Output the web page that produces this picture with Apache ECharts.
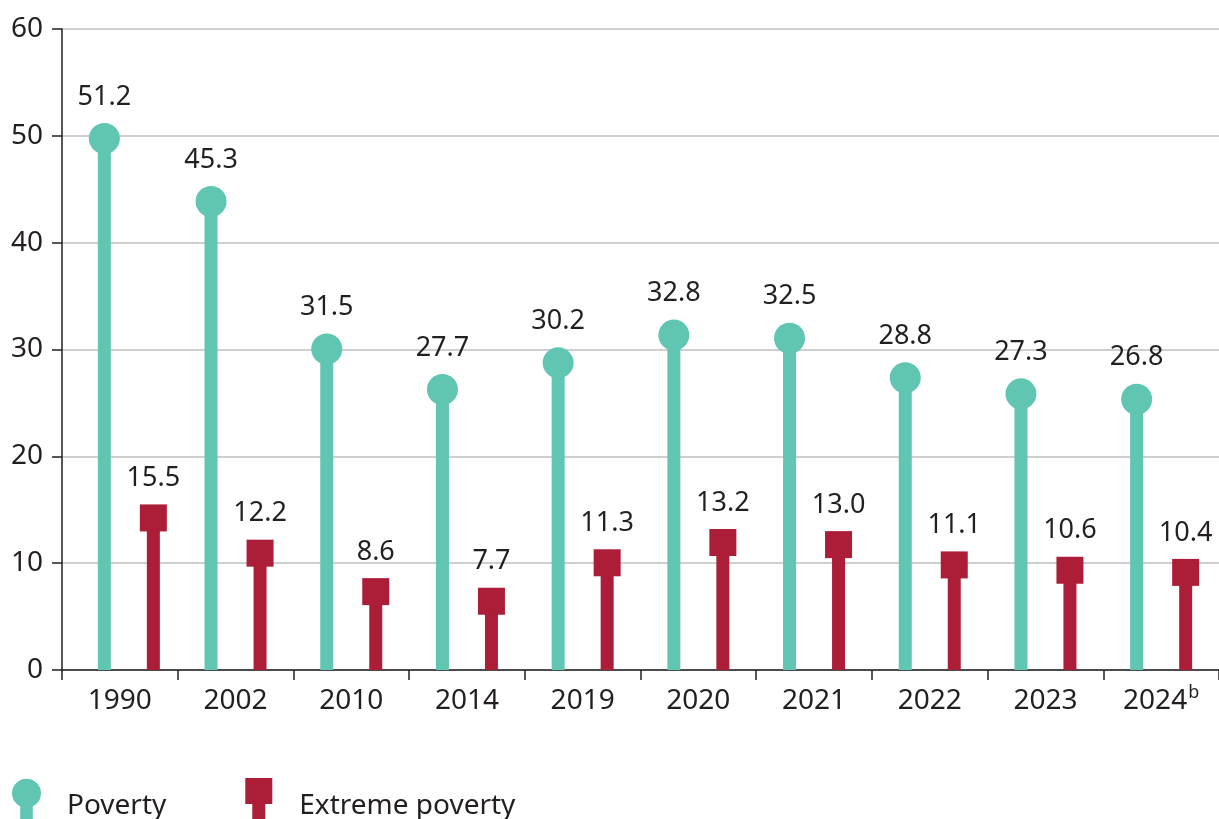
<!DOCTYPE html>
<html>
<head>
<meta charset="utf-8">
<script src="https://cdn.jsdelivr.net/npm/echarts@6/dist/echarts.min.js"></script>
<style>
html,body{margin:0;padding:0;background:#fff;}
#chart{width:1219px;height:819px;}
</style>
</head>
<body>
<div id="chart"></div>
<script>
const categories = ['1990','2002','2010','2014','2019','2020','2021','2022','2023','2024'];
const footnotes = ['','','','','','','','','','b'];
const poverty = [51.2,45.3,31.5,27.7,30.2,32.8,32.5,28.8,27.3,26.8];
const extremePoverty = [15.5,12.2,8.6,7.7,11.3,13.2,13.0,11.1,10.6,10.4];
const yTicks = [0,10,20,30,40,50,60];

const TEAL = '#60C5B1';
const RED = '#AC1E37';
const INK = '#231F20';
const FONT = '"Noto Sans", sans-serif';
const FIRST_GROUP_SHIFT = 9; // first group in the original sits slightly right of its slot

function makeRender(shape, color, offset) {
  return function (params, api) {
    const idx = api.value(0);
    const v = api.value(1);
    const base = api.coord([idx, 0]);
    const top = api.coord([idx, v]);
    const x = base[0] + offset + (idx === 0 ? FIRST_GROUP_SHIFT : 0);
    const stemW = 13;
    const children = [];
    let centerY;
    if (shape === 'circle') {
      const r = 15.5;
      centerY = top[1] + r;
      children.push({type:'rect', shape:{x:x-stemW/2, y:centerY, width:stemW, height:base[1]-centerY}, style:{fill:color}});
      children.push({type:'circle', shape:{cx:x, cy:centerY, r:r}, style:{fill:color}});
    } else {
      const s = 27;
      centerY = top[1] + s/2;
      children.push({type:'rect', shape:{x:x-stemW/2, y:centerY, width:stemW, height:base[1]-centerY}, style:{fill:color}});
      children.push({type:'rect', shape:{x:x-s/2, y:top[1], width:s, height:s}, style:{fill:color}});
    }
    children.push({type:'text', x:x, y:top[1]-26, style:{text:v.toFixed(1), fill:INK, font:'27px '+FONT, align:'center', verticalAlign:'middle'}});
    return {type:'group', children:children};
  };
}

const chart = echarts.init(document.getElementById('chart'), null, {renderer:'canvas'});
chart.setOption({
  animation:false,
  backgroundColor:'#fff',
  grid:{left:62, right:-5, top:29, bottom:149, containLabel:false},
  legend:{
    left:12, top:778, padding:0, itemWidth:29, itemHeight:50, itemGap:79,
    selectedMode:false,
    data:[
      {name:'Poverty', icon:'path://M0,15 A15,15 0 1,1 30,15 A15,15 0 1,1 0,15 Z M8.5,15 L21.5,15 L21.5,50 L8.5,50 Z'},
      {name:'Extreme poverty', icon:'path://M0,0 L27,0 L27,26 L20,26 L20,50 L7,50 L7,26 L0,26 Z'}
    ],
    formatter: function(n){ return '{t|' + n + '}'; },
    textStyle:{color:INK, fontSize:28, fontFamily:FONT,
      rich:{t:{color:INK, fontSize:28, fontFamily:FONT, padding:[6,0,0,21]}}}
  },
  xAxis:{
    type:'category', data:categories, boundaryGap:true,
    axisLine:{show:true, lineStyle:{color:INK, width:1.5}},
    axisTick:{show:true, interval:0, length:10, lineStyle:{color:INK, width:1.5}},
    axisLabel:{interval:0, margin:14, color:INK, fontSize:28, fontFamily:FONT,
      formatter:function(val){ const f = footnotes[categories.indexOf(val)]; return '{n|' + val + '}' + (f ? '{sup|' + f + '}' : ''); },
      rich:{
        n:{fontSize:28, fontFamily:FONT, color:INK, lineHeight:34},
        sup:{fontSize:18, fontFamily:FONT, color:INK, lineHeight:26, verticalAlign:'top', padding:[0,0,0,1]}
      }},
    splitLine:{show:false}
  },
  yAxis:{
    type:'value', min:yTicks[0], max:yTicks[yTicks.length-1], interval:10,
    axisLine:{show:true, lineStyle:{color:INK, width:1.5}},
    axisTick:{show:true, length:10, lineStyle:{color:INK, width:1.5}},
    axisLabel:{margin:19, color:INK, fontSize:28, fontFamily:FONT},
    splitLine:{show:true, lineStyle:{color:'#BFBFBF', width:1.5}}
  },
  series:[
    {name:'Poverty', type:'custom', color:TEAL, itemStyle:{color:TEAL},
      renderItem:makeRender('circle', TEAL, -24.5),
      data:poverty.map((v,i)=>[i,v]), encode:{x:0,y:1}, z:3},
    {name:'Extreme poverty', type:'custom', color:RED, itemStyle:{color:RED},
      renderItem:makeRender('square', RED, 24.5),
      data:extremePoverty.map((v,i)=>[i,v]), encode:{x:0,y:1}, z:3}
  ]
});
</script>
</body>
</html>
